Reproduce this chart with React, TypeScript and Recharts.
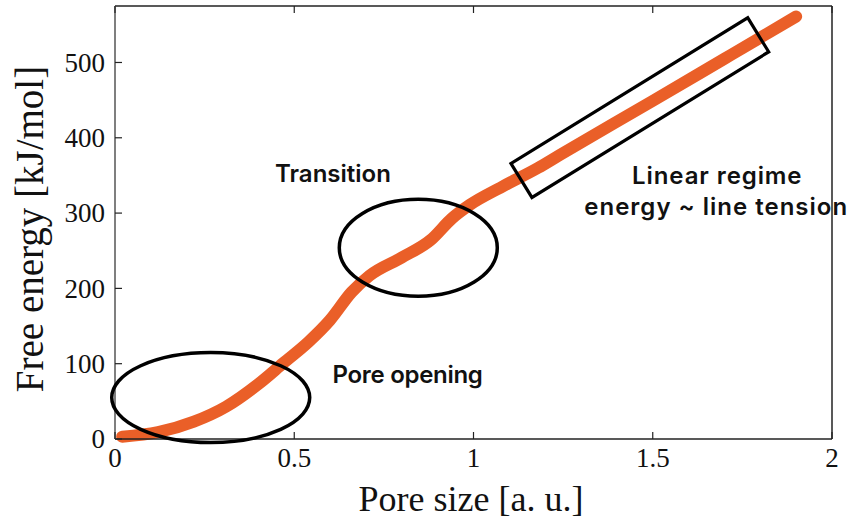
import { LineChart, Line, XAxis, YAxis, ReferenceDot, Customized } from "recharts";

// pore size [a. u.] vs free energy [kJ/mol]
const poreSize = [0.02, 0.12, 0.22, 0.31, 0.4, 0.47, 0.54, 0.6, 0.66, 0.71, 0.8, 0.88, 0.94, 0.99, 1.08, 1.18, 1.24, 1.5, 1.7, 1.9];
const freeEnergy = [3, 9, 23, 43, 73, 101, 129, 158, 195, 217, 241, 264, 293, 311, 335, 360, 377, 449, 505, 561];

const xTicks = [0, 0.5, 1, 1.5, 2];
const yTicks = [0, 100, 200, 300, 400, 500];

const data = poreSize.map((x, i) => ({ x, y: freeEnergy[i] }));

const SERIF = "'Liberation Serif', 'Times New Roman', serif";
const SANS = "Inter, 'Noto Sans', Roboto, sans-serif";
const CURVE = "#EA5F28";
const FRAME = "#222";
const TICK_LEN = 7;

function BottomTick({ x, y, payload }: any) {
  return (
    <g>
      <line x1={x} y1={y} x2={x} y2={y - TICK_LEN} stroke={FRAME} strokeWidth={1.2} />
      <text x={x} y={y + 28} textAnchor="middle" fontFamily={SERIF} fontSize={27} fill="#111">
        {payload.value}
      </text>
    </g>
  );
}

function LeftTick({ x, y, payload }: any) {
  return (
    <g>
      <line x1={x} y1={y} x2={x + TICK_LEN} y2={y} stroke={FRAME} strokeWidth={1.2} />
      <text x={x - 10} y={y} dy="0.34em" textAnchor="end" fontFamily={SERIF} fontSize={27} fill="#111">
        {payload.value}
      </text>
    </g>
  );
}

function TopTick({ x, y }: any) {
  return <line x1={x} y1={y} x2={x} y2={y + TICK_LEN} stroke={FRAME} strokeWidth={1.2} />;
}

function RightTick({ x, y }: any) {
  return <line x1={x} y1={y} x2={x - TICK_LEN} y2={y} stroke={FRAME} strokeWidth={1.2} />;
}

function AxisTitles() {
  return (
    <g fontFamily={SERIF} fill="#111">
      <text x={471} y={511} textAnchor="middle" fontSize={36}>
        Pore size [a. u.]
      </text>
      <text x={43} y={229} textAnchor="middle" fontSize={39} transform="rotate(-90 43 229)">
        Free energy [kJ/mol]
      </text>
    </g>
  );
}

const noteText = (label: string, spacing: number) => (p: any) => (
  <text
    x={p.cx}
    y={p.cy}
    textAnchor="middle"
    fontFamily={SANS}
    fontSize={24}
    fontWeight={600}
    letterSpacing={spacing}
    fill="#111"
  >
    {label}
  </text>
);

export default function App() {
  return (
    <div style={{ position: "absolute", left: 0, top: 0, background: "#fff" }}>
      <LineChart width={864} height={522} data={data} margin={{ top: 5, right: 31, bottom: 82, left: 114 }}>
        <XAxis
          dataKey="x"
          type="number"
          domain={[0, 2]}
          ticks={xTicks}
          interval={0}
          height={1}
          tickSize={0}
          tickMargin={0}
          tickLine={false}
          tick={<BottomTick />}
          axisLine={{ stroke: FRAME, strokeWidth: 1.5 }}
        />
        <XAxis
          xAxisId="top"
          orientation="top"
          dataKey="x"
          type="number"
          domain={[0, 2]}
          ticks={xTicks}
          interval={0}
          height={1}
          tickSize={0}
          tickMargin={0}
          tickLine={false}
          tick={<TopTick />}
          axisLine={{ stroke: FRAME, strokeWidth: 1.5 }}
        />
        <YAxis
          type="number"
          domain={[0, 575]}
          ticks={yTicks}
          interval={0}
          width={1}
          tickSize={0}
          tickMargin={0}
          tickLine={false}
          tick={<LeftTick />}
          axisLine={{ stroke: "#555", strokeWidth: 1.5 }}
        />
        <YAxis
          yAxisId="right"
          orientation="right"
          type="number"
          domain={[0, 575]}
          ticks={yTicks}
          interval={0}
          width={1}
          tickSize={0}
          tickMargin={0}
          tickLine={false}
          tick={<RightTick />}
          axisLine={{ stroke: FRAME, strokeWidth: 1.5 }}
        />
        <Line
          dataKey="y"
          type="monotone"
          stroke={CURVE}
          strokeWidth={12}
          strokeLinecap="round"
          dot={false}
          activeDot={false}
          isAnimationActive={false}
        />

        {/* annotation shapes */}
        <ReferenceDot
          x={0.267}
          y={55}
          r={0}
          ifOverflow="visible"
          shape={(p: any) => (
            <ellipse cx={p.cx} cy={p.cy} rx={99} ry={45} fill="none" stroke="#000" strokeWidth={3.5} />
          )}
        />
        <ReferenceDot
          x={0.846}
          y={254}
          r={0}
          ifOverflow="visible"
          shape={(p: any) => (
            <ellipse cx={p.cx} cy={p.cy} rx={79} ry={48.5} fill="none" stroke="#000" strokeWidth={3.5} />
          )}
        />
        <ReferenceDot
          x={1.464}
          y={440}
          r={0}
          ifOverflow="visible"
          shape={(p: any) => (
            <rect
              x={p.cx - 139}
              y={p.cy - 20}
              width={278}
              height={40}
              fill="none"
              stroke="#000"
              strokeWidth={3.2}
              transform={`rotate(-31.6 ${p.cx} ${p.cy})`}
            />
          )}
        />

        {/* annotation labels */}
        <ReferenceDot x={0.608} y={341} r={0} ifOverflow="visible" shape={noteText("Transition", 0)} />
        <ReferenceDot x={0.816} y={74} r={0} ifOverflow="visible" shape={noteText("Pore opening", -0.3)} />
        <ReferenceDot x={1.68} y={338} r={0} ifOverflow="visible" shape={noteText("Linear regime", 0.9)} />
        <ReferenceDot x={1.677} y={298} r={0} ifOverflow="visible" shape={noteText("energy ~ line tension", 1)} />

        <Customized component={AxisTitles} />
      </LineChart>
    </div>
  );
}
